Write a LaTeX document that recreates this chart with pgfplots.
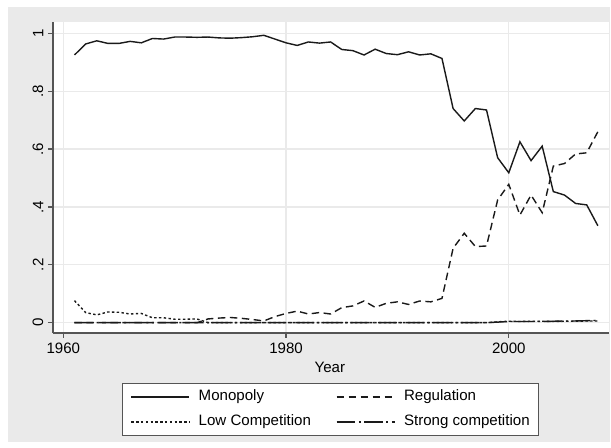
\documentclass[border=0pt]{standalone}
\usepackage{pgfplots}
\usepackage{pgfplotstable}
\pgfplotsset{compat=1.18}
\usepackage{fontspec}
\setmainfont{Liberation Sans}
\definecolor{bggray}{HTML}{EAEAEA}
\definecolor{gridgray}{HTML}{EAEAEA}
\definecolor{axgray}{HTML}{555555}
\definecolor{linec}{HTML}{1A1A1A}
\newcommand{\chartfont}{\fontsize{11.3}{13.5}\selectfont}

\pgfplotstableread{
year mono reg low strong
1961 0.925 0     0.076 0
1962 0.963 0     0.035 0
1963 0.974 0     0.027 0
1964 0.965 0     0.037 0
1965 0.965 0     0.036 0
1966 0.972 0     0.030 0
1967 0.967 0     0.032 0
1968 0.982 0     0.017 0
1969 0.980 0     0.017 0
1970 0.987 0     0.012 0
1971 0.987 0     0.012 0
1972 0.986 0     0.013 0
1973 0.987 0.013 0     0
1974 0.984 0.016 0     0
1975 0.983 0.018 0     0
1976 0.985 0.015 0     0
1977 0.988 0.011 0     0
1978 0.993 0.006 0     0
1979 0.980 0.021 0     0
1980 0.967 0.032 0     0
1981 0.958 0.040 0     0
1982 0.970 0.030 0     0
1983 0.966 0.035 0     0
1984 0.970 0.030 0     0
1985 0.944 0.052 0     0
1986 0.940 0.058 0     0
1987 0.925 0.075 0     0
1988 0.945 0.053 0     0
1989 0.930 0.067 0     0
1990 0.926 0.072 0     0
1991 0.936 0.063 0     0
1992 0.925 0.075 0     0
1993 0.929 0.072 0     0
1994 0.913 0.084 0     0
1995 0.740 0.257 0     0
1996 0.697 0.309 0     0
1997 0.740 0.263 0     0
1998 0.735 0.265 0     0
1999 0.570 0.424 0.003 0.002
2000 0.518 0.478 0.005 0.004
2001 0.625 0.372 0.004 0.004
2002 0.560 0.441 0.005 0.004
2003 0.610 0.380 0.005 0.004
2004 0.453 0.541 0.004 0.005
2005 0.441 0.550 0.005 0.006
2006 0.412 0.583 0.005 0.006
2007 0.407 0.587 0.006 0.007
2008 0.335 0.660 0.006 0.008
}\datatable

\begin{document}
\begin{tikzpicture}[font=\chartfont]
\fill[white] (-39.75pt,-86.25pt) rectangle (418.5pt,249.75pt);
\fill[bggray] (-33.75pt,-81.75pt) rectangle (417.75pt,244.5pt);
\begin{axis}[
  scale only axis, width=417pt, height=233.25pt,
  xmin=1959.07, xmax=2009.0, ymin=-0.0356, ymax=1.039,
  axis background/.style={fill=white},
  axis x line*=bottom, axis y line*=left,
  axis line style={draw=axgray, line width=0.9pt, -},
  xtick={1960,1980,2000}, xticklabels={1960,1980,2000},
  ytick={0,0.2,0.4,0.6,0.8,1}, yticklabels={0,.2,.4,.6,.8,1},
  tick align=outside, major tick length=3.75pt,
  tick style={draw=axgray, line width=0.9pt},
  grid=major, major grid style={draw=gridgray, line width=0.9pt},
  every tick label/.append style={font=\chartfont},
  yticklabel style={rotate=90, anchor=south, xshift=0pt},
  xlabel={Year},
  label style={font=\chartfont},
  xlabel style={at={(axis description cs:0.498,-0.109)}, anchor=center},
  legend columns=2, legend cell align=left,
  legend style={at={(0.4985,-0.1608)}, anchor=north, draw=axgray, fill=white,
    line width=0.75pt, font=\chartfont, inner xsep=6.5pt, inner ysep=5pt,
    row sep=8.25pt,
    nodes={inner sep=0pt, text height=8pt, text depth=2.5pt},
    /tikz/every odd column/.append style={column sep=6.5pt},
    /tikz/every even column/.append style={column sep=18.75pt}},
  legend image code/.code={\draw[#1] (0pt,0pt) -- (43.5pt,0pt);},
]
\addplot[linec, line width=1.05pt, solid] table[x=year, y=mono] {\datatable};
\addlegendentry{Monopoly}
\addplot[linec, line width=1.05pt, dash pattern=on 5.6pt off 3.4pt] table[x=year, y=reg] {\datatable};
\addlegendentry{Regulation}
\addplot[linec, line width=1.05pt, dash pattern=on 1.8pt off 1.8pt] table[x=year, y=low] {\datatable};
\addlegendentry{Low Competition}
\addplot[linec, line width=1.05pt, dash pattern=on 14pt off 2.6pt on 1.5pt off 2.6pt] table[x=year, y=strong] {\datatable};
\addlegendentry{Strong competition}
\end{axis}
\end{tikzpicture}
\end{document}
